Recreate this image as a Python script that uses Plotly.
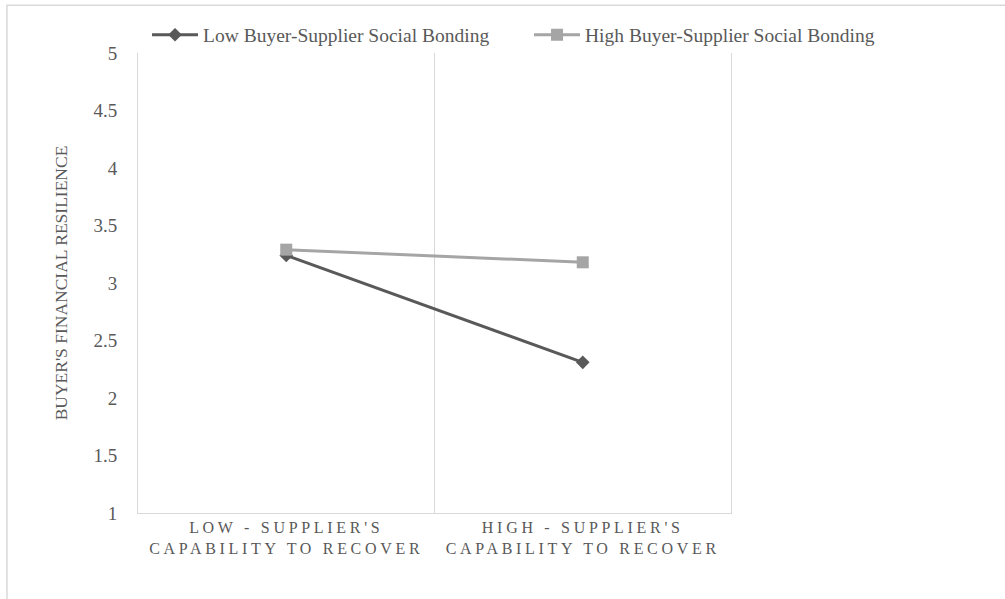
import plotly.graph_objects as go

categories = ["LOW - SUPPLIER'S<br>CAPABILITY TO RECOVER", "HIGH - SUPPLIER'S<br>CAPABILITY TO RECOVER"]
low_bonding = [3.24, 2.31]
high_bonding = [3.29, 3.18]
series_names = ["Low Buyer-Supplier Social Bonding", "High Buyer-Supplier Social Bonding"]
y_title = "BUYER'S FINANCIAL RESILIENCE"

FONT = "Liberation Serif, Times New Roman, serif"
GREY_TXT = "#595959"
GRID = "#d9d9d9"

def spaced(t):
    return '<span style="letter-spacing:3.7px">' + t + '</span>'

cats = ["<br>".join(spaced(p) for p in c.split("<br>")) for c in categories]

fig = go.Figure()
fig.add_trace(go.Scatter(
    x=cats, y=low_bonding, name=series_names[0], mode="lines+markers",
    line=dict(color="#595959", width=3),
    marker=dict(symbol="diamond", size=10.5, color="#595959"),
))
fig.add_trace(go.Scatter(
    x=cats, y=high_bonding, name=series_names[1], mode="lines+markers",
    line=dict(color="#a5a5a5", width=3),
    marker=dict(symbol="square", size=12, color="#a5a5a5"),
))

fig.update_layout(
    width=1005, height=599,
    margin=dict(l=138, r=274, t=53, b=86, autoexpand=False),
    paper_bgcolor="white", plot_bgcolor="white",
    font=dict(family=FONT, color=GREY_TXT, size=16),
    showlegend=True,
    legend=dict(orientation="h", x=1.3036, xanchor="right", y=1.039, yanchor="middle",
                font=dict(size=19.5, color=GREY_TXT), bgcolor="rgba(0,0,0,0)",
                itemwidth=46, entrywidth=321, entrywidthmode="pixels", traceorder="normal"),
    xaxis=dict(type="category", tickson="boundaries", showgrid=True, gridcolor=GRID, gridwidth=1,
               showline=True, linecolor=GRID, linewidth=1, ticks="", range=[-0.5, 1.5],
               tickfont=dict(size=16, color=GREY_TXT), zeroline=False),
    yaxis=dict(range=[1, 5], dtick=0.5, showgrid=False, zeroline=False,
               showline=True, linecolor=GRID, linewidth=1, mirror=True,
               ticks="", ticklabelstandoff=16, tickfont=dict(size=19, color=GREY_TXT),
               title=dict(text=y_title, font=dict(size=17.5, color=GREY_TXT), standoff=21)),
    shapes=[dict(type="rect", xref="paper", yref="paper", x0=-0.221, x1=1.6, y0=-0.4, y1=1.104,
                 line=dict(color=GRID, width=1.5), fillcolor="rgba(0,0,0,0)", layer="below")],
)

fig.write_html("out.html", config={"displayModeBar": False},
               post_script="document.body.style.margin='0';")
